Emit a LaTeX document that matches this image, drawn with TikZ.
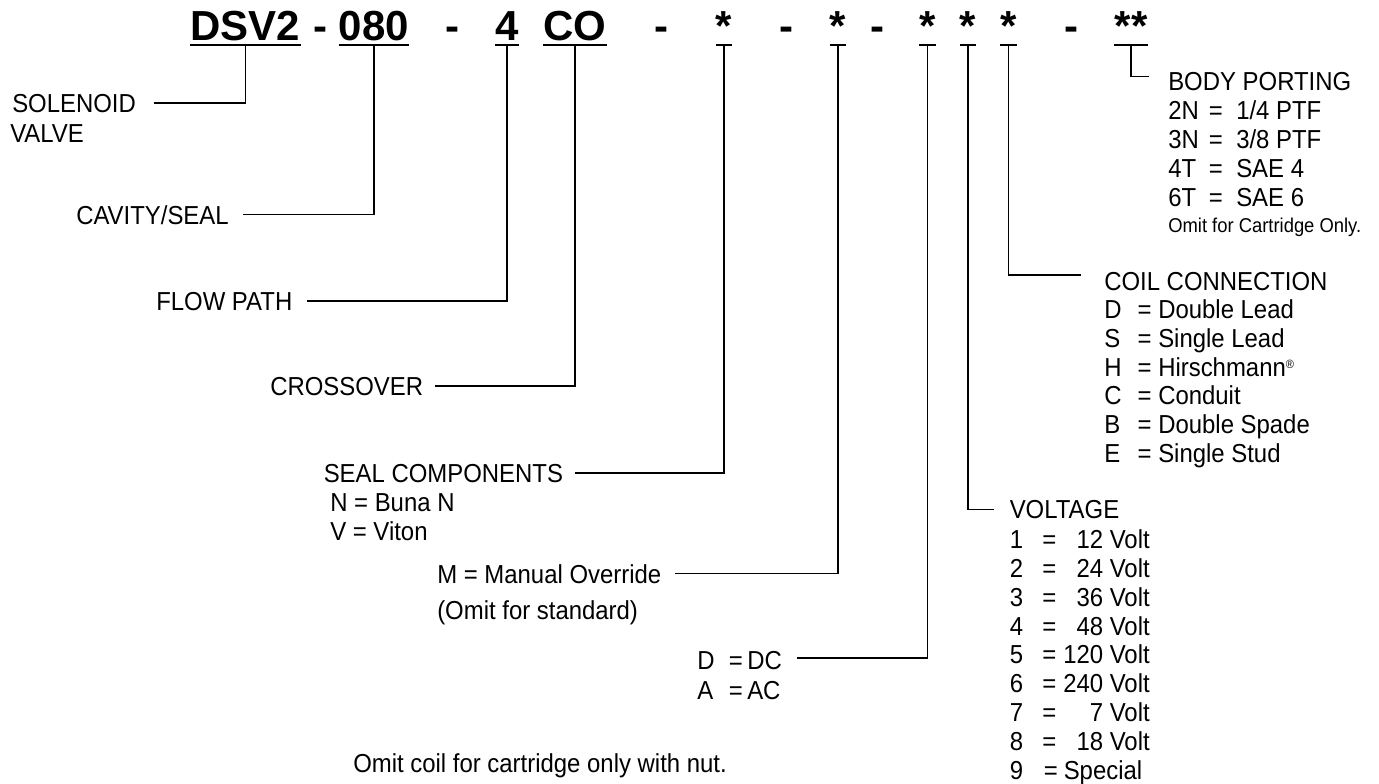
\documentclass[tikz,border=0pt]{standalone}
\usepackage{fontspec}
\setmainfont{Liberation Sans}
\newfontfamily\lblfont[FakeStretch=0.92]{Liberation Sans}
\usepackage{tikz}
\usetikzlibrary{calc}
\newcommand{\regmark}{\raisebox{0.55ex}{\fontsize{9}{9}\selectfont ®}}

\begin{document}
\begin{tikzpicture}[
		x=0.75pt, y=-0.75pt,
		ttl/.style = {font=\fontsize{31.5}{36}\selectfont\bfseries, inner sep=0, anchor=base},
		txt/.style = {font=\lblfont\fontsize{19.5}{23}\selectfont, inner sep=0, anchor=base west},
		small/.style = {txt, font=\lblfont\fontsize{15}{18}\selectfont},
		ul/.style = {line width=1.5pt},
		lead/.style = {line width=0.9pt}
		]
		\useasboundingbox (0,0) rectangle (1379,783);

		%Model code
		\node[ttl]	(tDSV)		at	(245.5, 40)	{DSV2};
		\node[ttl]	(d1)		at	(320, 40)	{-};
		\node[ttl]	(tCav)		at	(374, 40)	{080};
		\node[ttl]	(d2)		at	(452, 40)	{-};
		\node[ttl]	(tFlow)		at	(507, 40)	{4};
		\node[ttl]	(tCross)	at	(575, 40)	{CO};
		\node[ttl]	(d3)		at	(661, 40)	{-};
		\node[ttl]	(tSeal)		at	(724, 40)	{*};
		\node[ttl]	(d4)		at	(786.5, 40)	{-};
		\node[ttl]	(tMan)		at	(838, 40)	{*};
		\node[ttl]	(d5)		at	(877, 40)	{-};
		\node[ttl]	(tCur)		at	(927.5, 40)	{*};
		\node[ttl]	(tVolt)		at	(968, 40)	{*};
		\node[ttl]	(tCoil)		at	(1008.5, 40)	{*};
		\node[ttl]	(d6)		at	(1071.6, 40)	{-};
		\node[ttl]	(tPort)		at	(1131, 40)	{**};

		\foreach \n in {tDSV, tCav, tFlow, tCross, tSeal, tMan, tCur, tVolt, tCoil, tPort}
			\draw[ul] ([yshift=-3.75pt]\n.base west) -- ([yshift=-3.75pt]\n.base east);

		%Left labels
		\node[txt]	(lSol)		at	(12, 112)	{SOLENOID};
		\node[txt]	(lValve)	at	(10, 142)	{VALVE};
		\node[txt]	(lCav)		at	(76, 224)	{CAVITY/SEAL};
		\node[txt]	(lFlow)		at	(156, 310)	{FLOW PATH};
		\node[txt]	(lCross)	at	(270, 395)	{CROSSOVER};
		\node[txt]	(lSeal)		at	(323.5, 482)	{SEAL COMPONENTS};
		\node[txt]	(lBuna)		at	(330, 511)	{N = Buna N};
		\node[txt]	(lViton)	at	(330, 540)	{V = Viton};
		\node[txt]	(lMan)		at	(437, 583)	{M = Manual Override};
		\node[txt]	(lStd)		at	(437, 619)	{(Omit for standard)};
		\node[txt]	(lD)		at	(697, 669)	{D};
		\node[txt]	(lDeq)		at	(728.7, 669)	{=};
		\node[txt]	(lDC)		at	(747, 669)	{DC};
		\node[txt]	(lA)		at	(697, 699)	{A};
		\node[txt]	(lAeq)		at	(728.7, 699)	{=};
		\node[txt]	(lAC)		at	(747, 699)	{AC};
		\node[txt]	(lNut)		at	(353, 772)	{Omit coil for cartridge only with nut.};

		%Body porting
		\node[txt]	(lPort)		at	(1168, 90.7)	{BODY PORTING};
		\foreach \c/\v [count=\i] in {2N/1\slash4 PTF, 3N/3\slash8 PTF, 4T/SAE 4, 6T/SAE 6}{
			\node[txt]	(pc\i)	at	(1168, {119.3+29*(\i-1)})	{\c};
			\node[txt]	(pe\i)	at	(1208.5, {119.3+29*(\i-1)})	{=};
			\node[txt]	(pv\i)	at	(1236, {119.3+29*(\i-1)})	{\v};
		}
		\node[small]	(lOmit)		at	(1168, 232)	{Omit for Cartridge Only.};

		%Coil connection
		\node[txt]	(lCoil)		at	(1104, 290)	{COIL CONNECTION};
		\foreach \c/\v [count=\i] in {D/Double Lead, S/Single Lead, H/Hirschmann\regmark, C/Conduit, B/Double Spade, E/Single Stud}{
			\node[txt]	(cc\i)	at	(1104, {318.8+28.7*(\i-1)})	{\c};
			\node[txt]	(ce\i)	at	(1137.3, {318.8+28.7*(\i-1)})	{=};
			\node[txt]	(cv\i)	at	(1158, {318.8+28.7*(\i-1)})	{\v};
		}

		%Voltage
		\node[txt]	(lVolt)		at	(1009.5, 518.3)	{VOLTAGE};
		\foreach \c/\v [count=\i] in {1/12, 2/24, 3/36, 4/48, 5/120, 6/240, 7/7, 8/18}{
			\node[txt]	(vc\i)	at	(1009.5, {548.3+28.9*(\i-1)})	{\c};
			\node[txt]	(ve\i)	at	(1042, {548.3+28.9*(\i-1)})	{=};
			\node[txt, anchor=base east]	(vv\i)	at	(1150, {548.3+28.9*(\i-1)})	{\v\ Volt};
		}
		\node[txt]	(vc9)		at	(1009.5, 779.5)	{9};
		\node[txt]	(ve9)		at	(1043.7, 779.5)	{=};
		\node[txt]	(vv9)		at	(1063.5, 779.5)	{Special};

		%Lines
		\draw[lead, shorten >=13.5pt]	([yshift=-3.75pt]tDSV.base)		|-	(lSol.east);
		\draw[lead, shorten >=10.5pt]	([yshift=-3.75pt]tCav.base)		|-	(lCav.east);
		\draw[lead, shorten >=11pt]		([yshift=-3.75pt]tFlow.base)	|-	(lFlow.east);
		\draw[lead, shorten >=9pt]		([yshift=-3.75pt]tCross.base)	|-	(lCross.east);
		\draw[lead, shorten >=8.6pt]	([yshift=-3.75pt]tSeal.base)	|-	(lSeal.east);
		\draw[lead, shorten >=9.75pt]	([yshift=-3.75pt]tMan.base)		|-	(lMan.east);
		\draw[lead, shorten >=11pt]		([yshift=-3.75pt]tCur.base)		|-	([yshift=1.5pt]lDC.east);
		\draw[lead, shorten >=11.6pt]	([yshift=-3.75pt]tVolt.base)	|-	(lVolt.west);
		\draw[lead, shorten >=17pt]		([yshift=-3.75pt]tCoil.base)	|-	([yshift=4.5pt]lCoil.west);
		\draw[lead, shorten >=14pt]		([yshift=-3.75pt]tPort.base)	|-	([yshift=4pt]lPort.west);
	\end{tikzpicture}
\end{document}
